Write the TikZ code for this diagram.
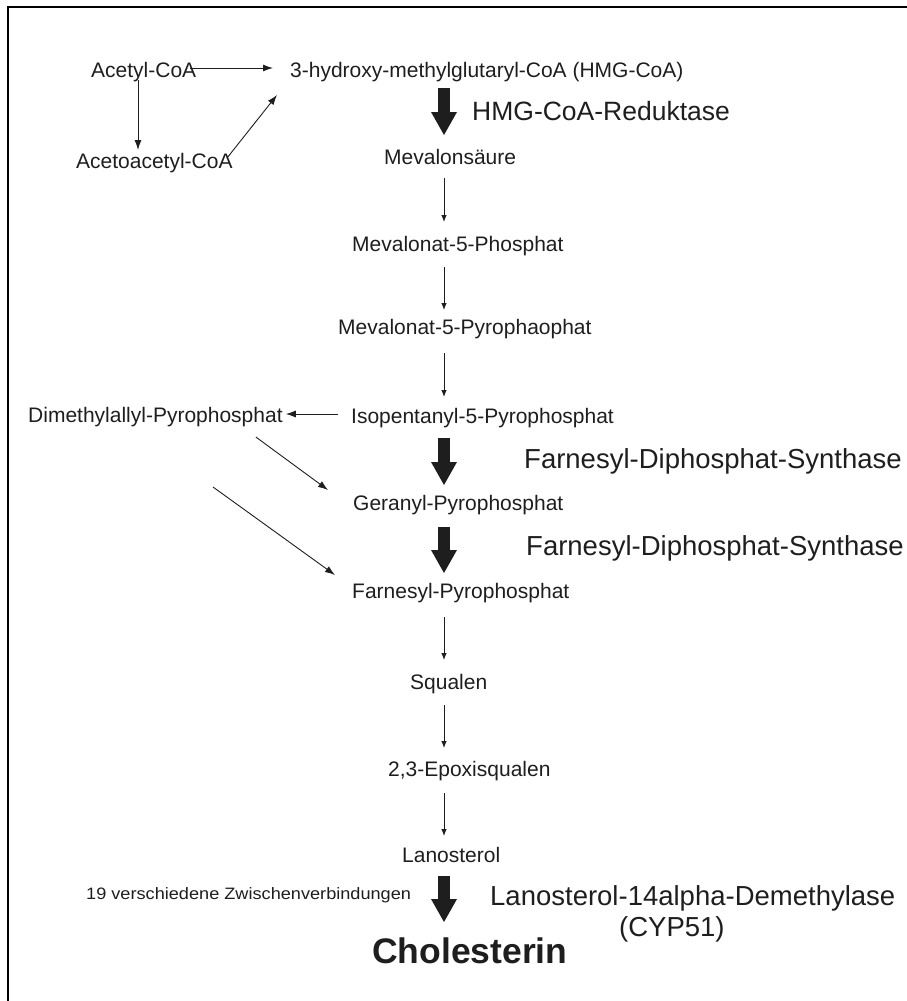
\documentclass[tikz,border=0pt]{standalone}
\usepackage{fontspec}
\setmainfont{Liberation Sans}
\usepackage{graphicx}
\usetikzlibrary{arrows.meta,calc}
\definecolor{ink}{RGB}{30,30,30}
\begin{document}
\begin{tikzpicture}[x=1pt,y=-1pt,
  every node/.style={text=ink},
  sm/.style={inner sep=0pt, anchor=base west, font=\fontsize{21}{25}\selectfont, text height=15pt, text depth=4pt},
  enz/.style={inner sep=0pt, anchor=base west, font=\fontsize{27.5}{32}\selectfont},
  thinarr/.style={draw=ink, line width=0.9pt, -{Latex[length=7pt,width=5.5pt]}},
  diagarr/.style={draw=ink, line width=0.9pt, -{Latex[length=10pt,width=7pt]}},
  bigarr/.style={draw=ink, line width=12pt, -{Triangle[length=23pt,width=26pt,line width=0pt]}},
  frame/.style={line width=2pt}
]
\useasboundingbox (0,0) rectangle (907,1001);
\draw[frame] (8,1001) -- (8,7) -- (907,7);
\coordinate (colx) at (444,0);

% texts
\node[sm] (acetyl) at (91,77) {Acetyl-CoA};
\node[sm] (hmg) at (290,77) {3-hydroxy-methylglutaryl-CoA (HMG-CoA)};
\node[sm] (acac) at (76,168) {Acetoacetyl-CoA};
\node[sm] (mev) at (384,164) {Mevalonsäure};
\node[sm] (mp) at (352,251) {Mevalonat-5-Phosphat};
\node[sm] (mpp) at (338,334) {Mevalonat-5-Pyrophaophat};
\node[sm] (ipp) at (351,423) {Isopentanyl-5-Pyrophosphat};
\node[sm] (dmapp) at (28,422) {Dimethylallyl-Pyrophosphat};
\node[sm] (gpp) at (353,510) {Geranyl-Pyrophosphat};
\node[sm] (fpp) at (352,598) {Farnesyl-Pyrophosphat};
\node[sm] (sq) at (410,689) {Squalen};
\node[sm] (ep) at (388,776) {2,3-Epoxisqualen};
\node[sm] (lano) at (402,862) {Lanosterol};
\node[inner sep=0pt, anchor=base west] (zw) at (86,899) {\scalebox{1.1}[1]{\fontsize{16.5}{19}\selectfont 19 verschiedene Zwischenverbindungen}};
\node[inner sep=0pt, anchor=base west, font=\fontsize{35.5}{40}\selectfont\bfseries] (chol) at (372,963) {Cholesterin};

% enzymes
\node[enz, font=\fontsize{26.5}{31}\selectfont] (e1) at (472,120) {HMG-CoA-Reduktase};
\node[enz] (e2) at (524,468) {Farnesyl-Diphosphat-Synthase};
\node[enz] (e3) at (526,555) {Farnesyl-Diphosphat-Synthase};
\node[enz] (e4) at (490,905) {Lanosterol-14alpha-Demethylase};
\node[enz] (e5) at (619,936) {(CYP51)};

% side connectors
\draw[diagarr] ([xshift=-6pt,yshift=9pt]acetyl.base east) -- ([xshift=-17pt,yshift=9pt]hmg.base west);
\draw[diagarr] ([xshift=47pt,yshift=-3pt]acetyl.base west) -- ([xshift=62pt,yshift=18pt]acac.base west);
\draw[diagarr] ([xshift=-5pt,yshift=11pt]acac.base east) -- ([xshift=-13pt,yshift=-18pt]hmg.base west);
\draw[diagarr] ([xshift=-13pt,yshift=9pt]ipp.base west) -- ([xshift=3pt,yshift=8pt]dmapp.base east);
\draw[diagarr] ([xshift=-27pt,yshift=-15pt]dmapp.base east) -- ([xshift=-25pt,yshift=20pt]gpp.base west);
\coordinate (d2) at (213,487);
\draw[diagarr] (d2) -- ([xshift=-17pt,yshift=23pt]fpp.base west);

% main column thin arrows
\draw[thinarr] ($(mev.base -| colx)+(0,14)$) -- ($(mp.base -| colx)+(0,-29)$);
\draw[thinarr] ($(mp.base -| colx)+(0,16)$) -- ($(mpp.base -| colx)+(0,-24)$);
\draw[thinarr] ($(mpp.base -| colx)+(0,19)$) -- ($(ipp.base -| colx)+(0,-26)$);
\draw[thinarr] ($(fpp.base -| colx)+(0,19)$) -- ($(sq.base -| colx)+(0,-29)$);
\draw[thinarr] ($(sq.base -| colx)+(0,16)$) -- ($(ep.base -| colx)+(0,-28)$);
\draw[thinarr] ($(ep.base -| colx)+(0,17)$) -- ($(lano.base -| colx)+(0,-26)$);

% main column block arrows
\draw[bigarr] ($(hmg.base -| colx)+(0,11)$) -- ($(mev.base -| colx)+(0,-29)$);
\draw[bigarr] ($(ipp.base -| colx)+(0,15)$) -- ($(gpp.base -| colx)+(0,-25)$);
\draw[bigarr] ($(gpp.base -| colx)+(0,17)$) -- ($(fpp.base -| colx)+(0,-25)$);
\draw[bigarr] ($(lano.base -| colx)+(0,14)$) -- ($(chol.base -| colx)+(0,-41)$);
\end{tikzpicture}
\end{document}
